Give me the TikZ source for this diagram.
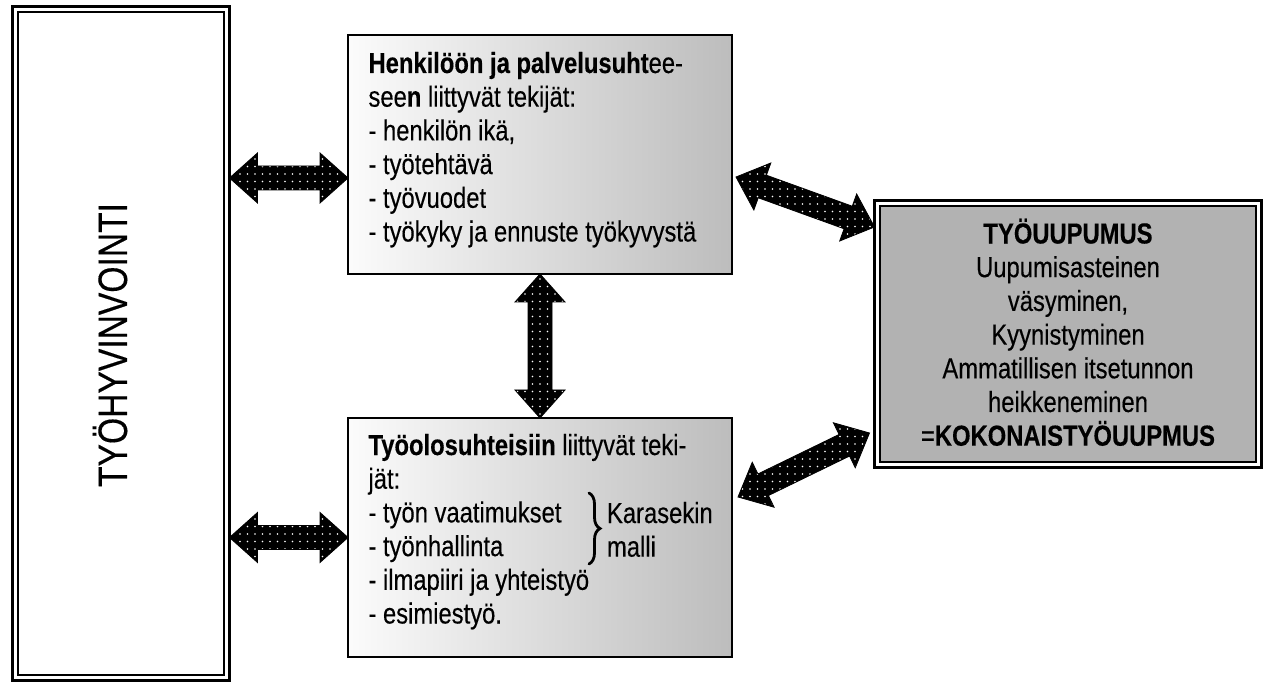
\documentclass[tikz,border=0pt]{standalone}
\usepackage{fontspec}
\setmainfont[FakeStretch=0.82, UprightFeatures={FakeBold=0.3}, BoldFeatures={FakeBold=0.3}]{Liberation Sans}
\usetikzlibrary{calc,patterns.meta,decorations.pathreplacing}

\definecolor{shadeL}{gray}{0.985}
\definecolor{shadeR}{gray}{0.74}
\definecolor{burnfill}{gray}{0.70}

\newcommand{\hb}[1]{{\bfseries #1}}
\newcommand{\topstrut}{\rule{0pt}{30pt}}
% block arrow geometry
\newcommand{\ahl}{28pt}
\newcommand{\ahw}{25pt}
\newcommand{\asw}{12pt}

\tikzset{
  bodytext/.style={font=\fontsize{29}{33.7}\selectfont, inner sep=0pt, outer sep=0pt},
  factorbox/.style={draw=black, line width=1.6pt, left color=shadeL, right color=shadeR,
    minimum width=384pt, minimum height=239pt, inner sep=0pt, outer sep=0pt},
  frameouter/.style={draw=black, fill=white, inner sep=0pt, outer sep=0pt},
  blockarrow/.style={
    draw=black, line width=0.8pt, line join=miter,
    preaction={fill=black},
    pattern={Dots[distance=7.5pt,radius=0.8pt]}, pattern color=white,
    to path={
      (\tikztostart)
      -- ($(\tikztostart)!\ahl!(\tikztotarget)!\ahw!90:(\tikztotarget)$)
      -- ($(\tikztostart)!\ahl!(\tikztotarget)!\asw!90:(\tikztotarget)$)
      -- ($(\tikztotarget)!\ahl!(\tikztostart)!\asw!-90:(\tikztostart)$)
      -- ($(\tikztotarget)!\ahl!(\tikztostart)!\ahw!-90:(\tikztostart)$)
      -- (\tikztotarget)
      -- ($(\tikztotarget)!\ahl!(\tikztostart)!\ahw!90:(\tikztostart)$)
      -- ($(\tikztotarget)!\ahl!(\tikztostart)!\asw!90:(\tikztostart)$)
      -- ($(\tikztostart)!\ahl!(\tikztotarget)!\asw!-90:(\tikztotarget)$)
      -- ($(\tikztostart)!\ahl!(\tikztotarget)!\ahw!-90:(\tikztotarget)$)
      -- cycle
    }
  }
}

\begin{document}
\begin{tikzpicture}[x=1pt,y=-1pt]
\fill[white] (0,0) rectangle (1272,684);
\useasboundingbox (0,0) rectangle (1272,684);

% left frame: work well-being
\node[frameouter, line width=2.6pt, minimum width=217pt, minimum height=674pt] (wb) at (121,343.5) {};
\draw[line width=1.4pt] ([shift={(5.5pt,-5.5pt)}]wb.north west) rectangle ([shift={(-5.5pt,5.5pt)}]wb.south east);
\node[rotate=90, font=\fontsize{41}{49}\selectfont, inner sep=0pt] (wbtext) at (110,345) {TYÖHYVINVOINTI};

% factor boxes
\node[factorbox] (top) at (540,154.5) {};
\node[factorbox] (bot) at (540,537.5) {};

% burnout box
\node[frameouter, line width=3pt, minimum width=387pt, minimum height=267pt] (burn) at (1068,334) {};
\draw[line width=1.6pt, fill=burnfill] ([shift={(5.5pt,-5.5pt)}]burn.north west) rectangle ([shift={(-5.5pt,5.5pt)}]burn.south east);

% connectors
\draw[blockarrow] ([yshift=-23.5pt]top.west -| wb.east) to ([yshift=-23.5pt]top.west);
\draw[blockarrow] (bot.west -| wb.east) to (bot.west);
\draw[blockarrow] (top.south) to (bot.north);
\draw[blockarrow] ([xshift=4pt,yshift=-22.5pt]top.east) to ([yshift=107pt]burn.west);
\draw[blockarrow] ([xshift=6pt,yshift=40.5pt]bot.east) to ([xshift=-5pt,yshift=-99pt]burn.west);

% texts
\node[bodytext, align=left, anchor=north west] (toptext) at ([xshift=20.5pt,yshift=-8pt]top.north west)
  {\topstrut\hb{Henkilöön ja palvelusuht}ee-\\see\hb{n} liittyvät tekijät:\\- henkilön ikä,\\- työtehtävä\\- työvuodet\\- työkyky ja ennuste työkyvystä};
\node[bodytext, align=left, anchor=north west] (bottext) at ([xshift=20.5pt,yshift=-7pt]bot.north west)
  {\topstrut\hb{Työolosuhteisiin} liittyvät teki-\\jät:\\- työn vaatimukset\\- työnhallinta\\- ilmapiiri ja yhteistyö\\- esimiestyö.};
\draw[line width=2.8pt, line cap=round, decorate, decoration={brace, amplitude=11pt}] (589,493) -- (589,564);
\node[bodytext, align=left, anchor=north west] (karasek) at (607,493) {\topstrut Karasekin\\malli};
\node[bodytext, align=center, anchor=north] (burntext) at ([yshift=-13pt]burn.north)
  {\topstrut\hb{TYÖUUPUMUS}\\Uupumisasteinen\\väsyminen,\\Kyynistyminen\\Ammatillisen itsetunnon\\heikkeneminen\\=\hb{KOKONAISTYÖUUPMUS}};
\end{tikzpicture}
\end{document}
